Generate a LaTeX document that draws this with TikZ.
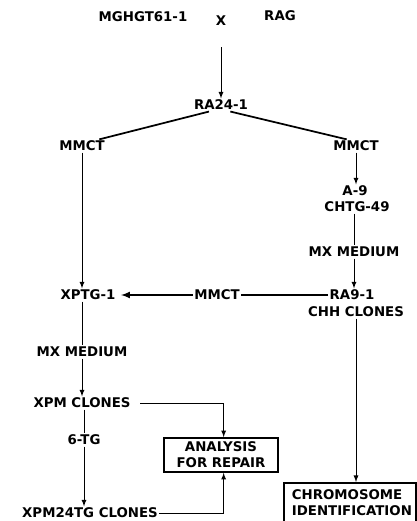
\documentclass[tikz,border=0pt]{standalone}
\usepackage{fontspec}
\setmainfont{DejaVu Sans}

\begin{document}
\begin{tikzpicture}[x=0.75pt, y=-0.75pt,
  lbl/.style={font=\bfseries\fontsize{10}{11.8}\selectfont, inner sep=1pt, align=center},
  ln/.style={line width=0.7pt},
  thick ln/.style={line width=1.3pt},
  arr/.style={-latex, line width=0.7pt},
  box/.style={lbl, draw, line width=1.3pt}]
\useasboundingbox (0,0) rectangle (417,521);
% the cross
\node[lbl] (mghgt) at (143,17) {MGHGT61-1};
\node[lbl] (cross) at (221,21) {X};
\node[lbl] (rag) at (280,16) {RAG};
\node[lbl] (ra24) at (221,105) {RA24-1};
\draw[arr] ([yshift=-15pt]cross.south) -- (ra24.north);
% two branches
\node[lbl] (mmctl) at (82,146) {MMCT};
\node[lbl] (mmctr) at (356,146) {MMCT};
\draw[thick ln] ([xshift=-9pt]ra24.south) -- ([xshift=13pt]mmctl.north);
\draw[thick ln] ([xshift=7pt]ra24.south) -- ([xshift=-7pt]mmctr.north);
% right side
\node[lbl] (a9) at (355,191) {A-9};
\node[lbl] (chtg) at (357,207) {CHTG-49};
\node[lbl] (mxr) at (354,252) {MX MEDIUM};
\node[lbl] (ra9) at (352,295) {RA9-1};
\node[lbl] (chh) at (356,312) {CHH CLONES};
\draw[arr] (mmctr.south) -- (mmctr.south |- a9.north);
\draw[ln] (mxr.north |- chtg.south) -- (mxr.north);
\draw[arr] (mxr.south) -- (mxr.south |- ra9.north);
% left side
\node[lbl] (xptg) at (88,295) {XPTG-1};
\node[lbl] (mmctm) at (217,295) {MMCT};
\node[lbl] (mxl) at (82,352) {MX MEDIUM};
\node[lbl] (xpm) at (82,403) {XPM CLONES};
\node[lbl] (tg) at (84,440) {6-TG};
\node[lbl] (xpm24) at (90,513) {XPM24TG CLONES};
\draw[arr] (mmctl.south) -- (mmctl.south |- xptg.north);
\draw[thick ln] (ra9.west) -- (mmctm.east);
\draw[arr, line width=1.3pt] (mmctm.west) -- ([xshift=3pt]xptg.east);
\draw[ln] (xptg.south -| mxl.north) -- (mxl.north);
\draw[arr] (mxl.south) -- (xpm.north);
\draw[ln] (xpm.south -| tg.north) -- (tg.north);
\draw[arr] (tg.south) -- (tg.south |- xpm24.north);
% boxes
\node[box, minimum width=86pt, minimum height=25.5pt] (analysis) at (221,455) {ANALYSIS\\FOR REPAIR};
\node[box, anchor=north west, text width=87pt, align=left, inner xsep=6pt, inner ysep=5pt] (chrom) at (283,482) {CHROMOSOME\\IDENTIFICATION};
\draw[arr] ([xshift=6pt]xpm.east) -| ([xshift=2pt]analysis.north);
\draw[arr] (xpm24.east) -| ([xshift=2pt]analysis.south);
\draw[arr] (chh.south) -- (chh.south |- chrom.north);
\end{tikzpicture}
\end{document}
